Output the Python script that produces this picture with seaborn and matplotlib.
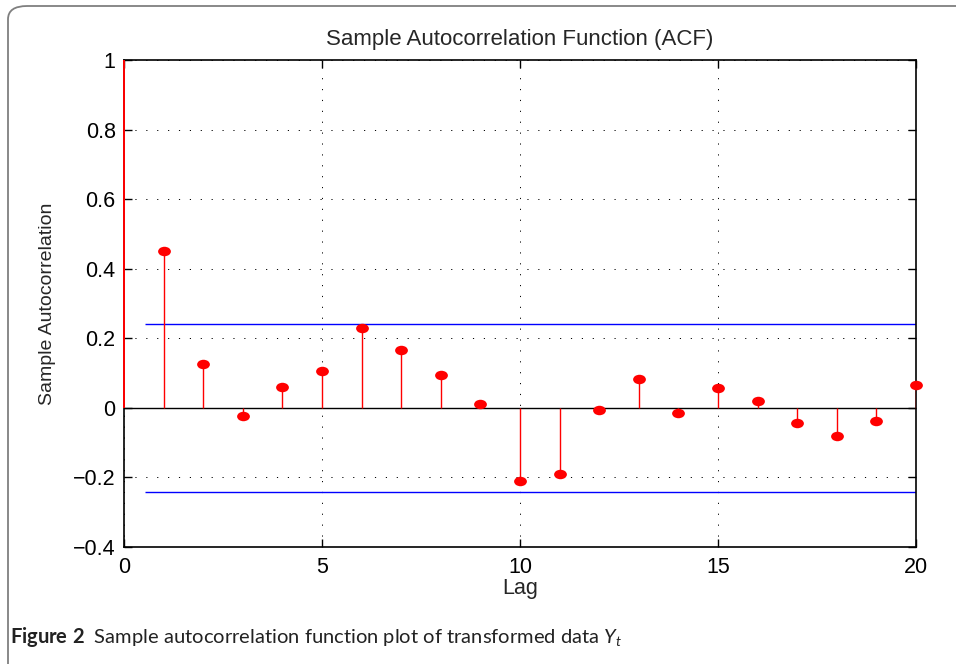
import numpy as np
import matplotlib
matplotlib.use("Agg")
import matplotlib.pyplot as plt
import seaborn as sns
import pandas as pd
from matplotlib.path import Path
from matplotlib.transforms import Affine2D
from matplotlib.patches import FancyBboxPatch

# ---- data ----
lags = list(range(1, 21))
acf_values = [0.451, 0.126, -0.023, 0.060, 0.106, 0.230, 0.167, 0.095, 0.012, -0.210,
              -0.190, -0.006, 0.083, -0.014, 0.057, 0.020, -0.043, -0.080, -0.037, 0.066]
lag0_value = 1.0
conf_bound = 0.2415
bound_start, bound_end = 0.53, 20
x_ticks = [0, 5, 10, 15, 20]
y_ticks = [-0.4, -0.2, 0, 0.2, 0.4, 0.6, 0.8, 1]
y_tick_labels = ["\u22120.4", "\u22120.2", "0", "0.2", "0.4", "0.6", "0.8", "1"]

sns.set_theme(style="white")
plt.rcParams['font.family'] = ['Liberation Sans', 'DejaVu Sans']
plt.rcParams['mathtext.fontset'] = 'custom'
plt.rcParams['mathtext.rm'] = 'Lato'
plt.rcParams['mathtext.bf'] = 'Lato:bold'
plt.rcParams['mathtext.it'] = 'Lato:italic'

fig = plt.figure(figsize=(9.56, 6.64), dpi=100)
ax = fig.add_axes([124/956, 1-547/664, (916-124)/956, (547-60)/664])

df = pd.DataFrame({"lag": lags, "acf": acf_values})

# stems
ax.vlines(df["lag"], 0, df["acf"], color="#ff0000", lw=1.0, zorder=3)
ax.vlines([0], 0, [lag0_value], color="#ff0000", lw=1.4, zorder=5, clip_on=False)
# zero line
ax.axhline(0, color="black", lw=1.0, zorder=2)
# confidence bounds
ax.hlines([conf_bound, -conf_bound], bound_start, bound_end, color="#0000ff", lw=1.0, zorder=2)

ellipse = Path.unit_circle().transformed(Affine2D().scale(1.35, 1.0))
sns.scatterplot(data=df, x="lag", y="acf", ax=ax, marker=ellipse, s=85,
                color="#ff0000", edgecolor="#ff0000", linewidth=0, zorder=4, clip_on=False)

ax.set_xlim(0, 20)
ax.set_ylim(-0.4, 1)
ax.set_xticks(x_ticks)
ax.set_xticklabels([str(t) for t in x_ticks])
ax.set_yticks(y_ticks)
ax.set_yticklabels(y_tick_labels)

ax.grid(True, color="black", lw=0.7, linestyle=(0, (1.2, 10)))
ax.set_axisbelow(True)
for sp in ax.spines.values():
    sp.set_visible(True)
    sp.set_color("black")
    sp.set_linewidth(1.2)
ax.tick_params(direction="in", length=6, width=1, top=True, right=True,
               bottom=True, left=True, labelsize=15.5, colors="black", pad=6)
ax.tick_params(axis="x", pad=7)

ax.set_title("Sample Autocorrelation Function (ACF)", fontsize=16, pad=11)
ax.set_xlabel("Lag", fontsize=15.5, labelpad=0)
ax.set_ylabel("Sample Autocorrelation", fontsize=14, labelpad=12)

fig.text(10/956, 1-637/664, r"$\mathbf{Figure\ 2}$  Sample autocorrelation function plot of transformed data $Y_t$",
         fontsize=14.5, family=['Lato', 'DejaVu Sans'], va="center", ha="left", color="#222222")

box = FancyBboxPatch((8/956, -20/664), 990/956, (664-6+20)/664,
                     boxstyle="round,pad=0,rounding_size=0.02",
                     transform=fig.transFigure, fill=False, edgecolor="#7f7f7f", lw=1.3,
                     clip_on=False)
fig.patches.append(box)

fig.savefig("out.png", dpi=100)
